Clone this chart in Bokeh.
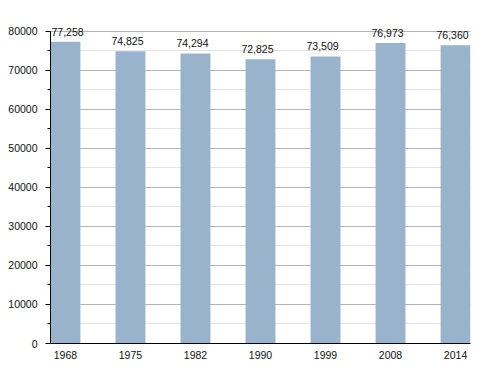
from bokeh.plotting import figure
from bokeh.models import ColumnDataSource, FixedTicker, Range1d, LabelSet
from bokeh.core.properties import value
from bokeh.embed import file_html
from bokeh.resources import INLINE

years = ["1968", "1975", "1982", "1990", "1999", "2008", "2014"]
population = [77258, 74825, 74294, 72825, 73509, 76973, 76360]
value_labels = ["77,258", "74,825", "74,294", "72,825", "73,509", "76,973", "76,360"]
y_ticks = [0, 10000, 20000, 30000, 40000, 50000, 60000, 70000, 80000]
y_minor = [5000, 15000, 25000, 35000, 45000, 55000, 65000, 75000]

bw = 0.46
idx = list(range(len(years)))
# keep the first label inside the plot frame (left-aligned at bar edge)
lab_x = [i - bw / 2 if i == 0 else i for i in idx]
lab_align = ["left" if i == 0 else "center" for i in idx]
lab_dx = [1 if i == 0 else -3 for i in idx]
src = ColumnDataSource(dict(x=idx, top=population, lab=value_labels,
                            lx=lab_x, la=lab_align, dx=lab_dx))

y_max = y_ticks[-1]
p = figure(width=492, height=365, output_backend="svg", toolbar_location=None,
           x_range=Range1d(-bw / 2, len(years) - 1 + bw / 2),
           y_range=Range1d(0, y_max * 1.05),
           min_border_left=50, min_border_right=22, min_border_top=15, min_border_bottom=22)
p.outline_line_color = None
p.background_fill_color = "white"

p.vbar(x="x", top="top", width=bw, source=src, fill_color="#99b3cd", line_color=None)

labels = LabelSet(x="lx", y="top", text="lab", source=src, text_align="la",
                  text_baseline="bottom", y_offset=6, x_offset="dx",
                  text_font=value("Liberation Sans"),
                  text_font_size=value("10.5px"), text_color=value("#111111"))
p.add_layout(labels)

p.xaxis.ticker = FixedTicker(ticks=idx)
p.xaxis.major_label_overrides = {i: y for i, y in enumerate(years)}
p.xaxis.major_tick_line_color = None
p.xaxis.minor_tick_line_color = None
p.xaxis.axis_line_color = "black"
p.xaxis.major_label_text_font = "Liberation Sans"
p.xaxis.major_label_text_font_size = "10.5px"
p.xaxis.major_label_text_color = "#111111"
p.xaxis.major_label_standoff = 1

p.yaxis.ticker = FixedTicker(ticks=y_ticks, minor_ticks=y_minor)
p.yaxis.bounds = (0, y_max)
p.yaxis.major_tick_in = 0
p.yaxis.major_tick_out = 5
p.yaxis.minor_tick_in = 0
p.yaxis.minor_tick_out = 3
p.yaxis.axis_line_color = "black"
p.yaxis.major_label_text_font = "Liberation Sans"
p.yaxis.major_label_text_font_size = "10.5px"
p.yaxis.major_label_text_color = "#111111"
p.yaxis.major_label_standoff = 8
p.yaxis.formatter.use_scientific = False

p.xgrid.grid_line_color = None
p.ygrid.grid_line_color = "#b4b4b4"
p.ygrid.minor_grid_line_color = "#e4e4e4"

open("out.html", "w").write(file_html(p, INLINE))
